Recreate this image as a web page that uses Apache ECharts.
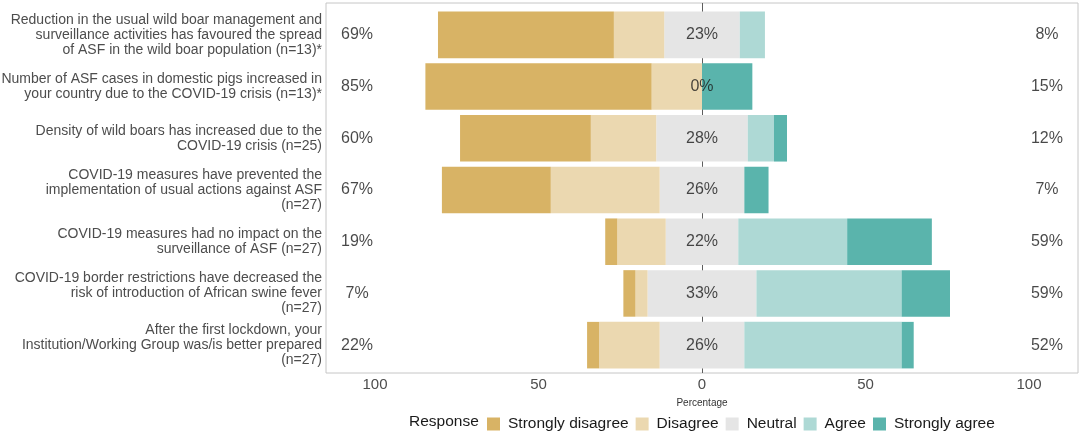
<!DOCTYPE html>
<html>
<head>
<meta charset="utf-8">
<script src="https://cdn.jsdelivr.net/npm/echarts@6/dist/echarts.min.js"></script>
<style>
html, body { margin: 0; padding: 0; background: #fff; }
#chart { width: 1084px; height: 434px; }
</style>
</head>
<body>
<div id="chart"></div>
<script>
// questions, top to bottom
var categories = [
    'Reduction in the usual wild boar management and\nsurveillance activities has favoured the spread\nof ASF in the wild boar population (n=13)*',
    'Number of ASF cases in domestic pigs increased in\nyour country due to the COVID-19 crisis (n=13)*',
    'Density of wild boars has increased due to the\nCOVID-19 crisis (n=25)',
    'COVID-19 measures have prevented the\nimplementation of usual actions against ASF\n(n=27)',
    'COVID-19 measures had no impact on the\nsurveillance of ASF (n=27)',
    'COVID-19 border restrictions have decreased the\nrisk of introduction of African swine fever\n(n=27)',
    'After the first lockdown, your\nInstitution/Working Group was/is better prepared\n(n=27)'
];

// percentages per response
var stronglyDisagree = [53.8, 69.2, 40.0, 33.3, 3.7, 3.7, 3.7];
var disagree         = [15.4, 15.4, 20.0, 33.3, 14.8, 3.7, 18.5];
var neutral          = [23.1, 0, 28.0, 25.9, 22.2, 33.3, 25.9];
var agree            = [7.7, 0, 8.0, 0, 33.3, 44.4, 48.1];
var stronglyAgree    = [0, 15.4, 4.0, 7.4, 25.9, 14.8, 3.7];

var responses = ['Strongly disagree', 'Disagree', 'Neutral', 'Agree', 'Strongly agree'];
var xTicks = [-100, -50, 0, 50, 100];

var colors = ['#d8b365', '#ebd8b0', '#e5e5e5', '#aed9d5', '#5ab4ac'];   // BrBG
var font = "'Liberation Sans', Arial, sans-serif";

var myChart = echarts.init(document.getElementById('chart'));

function barData(values, sign) {
    return values.map(function (v) { return v === 0 ? null : sign * v; });
}

function barSeries(name, idx, values, sign) {
    return {
        name: name,
        type: 'bar',
        stack: 'likert',
        barWidth: '90%',
        data: barData(values, sign),
        itemStyle: { color: colors[idx], borderWidth: 0 },
        emphasis: { disabled: true },
        z: 10
    };
}

// text of the percentages, sitting at fixed x places
function textSeries(x, values) {
    return {
        type: 'scatter',
        symbolSize: 0,
        silent: true,
        z: 12,
        data: values.map(function (v, i) { return [x, i, Math.round(v)]; }),
        label: {
            show: true,
            position: 'inside',
            formatter: function (p) { return p.data[2] + '%'; },
            fontFamily: font,
            fontSize: 16,
            color: '#1a1a1a'
        }
    };
}

var halfNeutral = neutral.map(function (v) { return v / 2; });
var leftTotal = stronglyDisagree.map(function (v, i) { return v + disagree[i]; });
var rightTotal = agree.map(function (v, i) { return v + stronglyAgree[i]; });

option = {
    animation: false,
    title: {
        text: 'Response',
        left: 409,
        top: 414,
        padding: 0,
        textStyle: { fontFamily: font, fontSize: 15.5, fontWeight: 'normal', color: '#1a1a1a' }
    },
    legend: {
        data: responses,
        left: 487,
        top: 416,
        padding: 0,
        itemWidth: 13,
        itemHeight: 13,
        itemGap: 7,
        icon: 'rect',
        selectedMode: false,
        textStyle: { fontFamily: font, fontSize: 15.5, color: '#1a1a1a', padding: [0, 0, 0, 3] }
    },
    // even width so the zero sits on a whole pixel and the bars hide the zero line
    grid: [
        { left: 326, right: 6, top: 9, height: 362, containLabel: false, outerBoundsMode: 'none' },
        { left: 326, right: 6, top: 3, height: 370, outerBoundsMode: 'none', show: true, borderColor: '#c6c6c6', borderWidth: 1, backgroundColor: 'transparent' }
    ],
    xAxis: [
        {
            type: 'value',
            min: -115,
            max: 115,
            interval: 5,
            name: 'Percentage',
            nameLocation: 'middle',
            nameGap: 27,
            nameTextStyle: { fontFamily: font, fontSize: 10, color: '#333333' },
            axisLine: { show: false },
            axisTick: { show: false },
            splitLine: { show: false },
            axisLabel: {
                margin: 6,
                fontFamily: font,
                fontSize: 15,
                color: '#4d4d4d',
                formatter: function (v) { return xTicks.indexOf(v) > -1 ? String(Math.abs(v)) : ''; }
            }
        },
        {
            // frame axis: only its split line at 0 is drawn, under the bars
            gridIndex: 1,
            type: 'value',
            min: -115,
            max: 115,
            interval: 115,
            axisLine: { show: false },
            axisTick: { show: false },
            axisLabel: { show: false },
            splitLine: { show: true, showMinLine: false, showMaxLine: false, lineStyle: { color: '#5e5e5e', width: 1 } }
        }
    ],
    yAxis: [
        {
            type: 'category',
            inverse: true,
            data: categories,
            axisLine: { show: false },
            axisTick: { show: false },
            splitLine: { show: false },
            axisLabel: {
                margin: 4,
                fontFamily: font,
                fontSize: 14,
                lineHeight: 15,
                color: '#4d4d4d',
                align: 'right'
            }
        },
        { gridIndex: 1, type: 'value', min: 0, max: 1, show: false }
    ],
    series: [
        barSeries('Neutral', 2, halfNeutral, -1),
        barSeries('Disagree', 1, disagree, -1),
        barSeries('Strongly disagree', 0, stronglyDisagree, -1),
        barSeries('Neutral', 2, halfNeutral, 1),
        barSeries('Agree', 3, agree, 1),
        barSeries('Strongly agree', 4, stronglyAgree, 1),
        textSeries(-105.5, leftTotal),
        textSeries(0, neutral),
        textSeries(105.5, rightTotal)
    ]
};

myChart.setOption(option);
</script>
</body>
</html>
